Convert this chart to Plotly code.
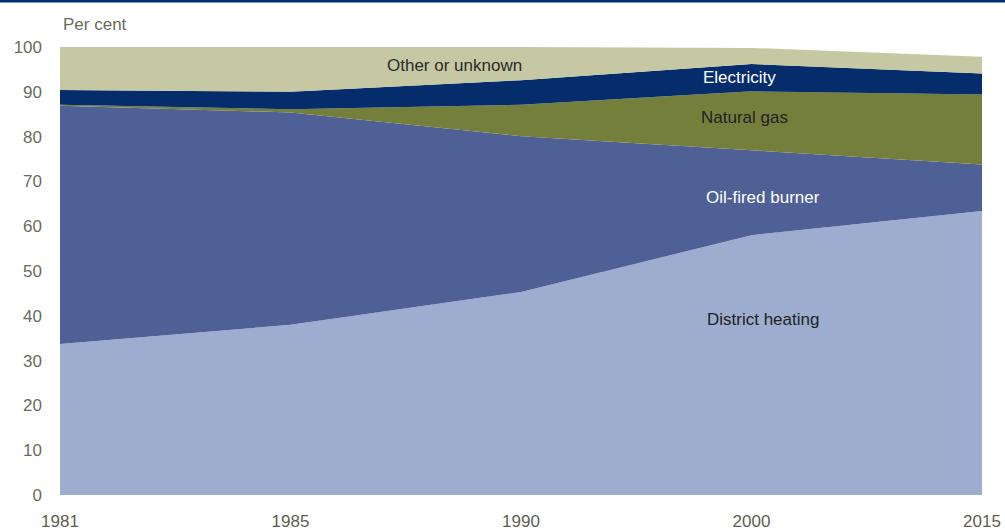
import plotly.graph_objects as go

years = ["1981", "1985", "1990", "2000", "2015"]
district_heating = [33.7, 38.0, 45.3, 58.0, 63.4]
oil_fired = [53.2, 47.4, 34.8, 19.0, 10.4]
natural_gas = [0.2, 0.7, 7.0, 13.1, 15.6]
electricity = [3.3, 3.9, 5.5, 6.1, 4.7]
other = [9.6, 10.0, 7.4, 3.6, 3.7]

series = [
    ("District heating", district_heating, "#9dadcf"),
    ("Oil-fired burner", oil_fired, "#4e6096"),
    ("Natural gas", natural_gas, "#757f3c"),
    ("Electricity", electricity, "#052c6b"),
    ("Other or unknown", other, "#c6c7a3"),
]

fig = go.Figure()
for name, vals, col in series:
    fig.add_trace(go.Scatter(
        x=years, y=vals, name=name, mode="lines", stackgroup="one",
        line=dict(width=0, color=col), fillcolor=col,
        hoverinfo="x+y+name",
    ))

labels = [
    ("Other or unknown", 1.71, 95.8, "#2b2b2b"),
    ("Electricity", 2.95, 93.1, "#ffffff"),
    ("Natural gas", 2.97, 84.2, "#222222"),
    ("Oil-fired burner", 3.05, 66.5, "#ffffff"),
    ("District heating", 3.05, 39.1, "#222222"),
]
for txt, xx, yy, c in labels:
    fig.add_annotation(x=xx, y=yy, xref="x", yref="y", text=txt, showarrow=False,
                       font=dict(family="Liberation Sans, Arial", size=17, color=c))

fig.add_annotation(x=0, y=1.0, xref="paper", yref="paper", yshift=11, xanchor="left",
                   yanchor="bottom", text="Per cent", showarrow=False, xshift=1,
                   font=dict(family="Liberation Sans, Arial", size=17, color="#6b6b5c"))

fig.add_shape(type="line", xref="paper", yref="paper",
              x0=-60 / 922, x1=1 + 23 / 922, y0=1 + 46 / 448, y1=1 + 46 / 448,
              line=dict(color="#052c6b", width=3))

fig.update_layout(
    width=1005, height=531,
    margin=dict(l=60, r=23, t=47, b=36, autoexpand=False),
    paper_bgcolor="white", plot_bgcolor="white",
    showlegend=False,
    xaxis=dict(type="category", range=[0, 4], showgrid=False, zeroline=False,
               showline=False, ticks="", ticklabelstandoff=14, automargin=False,
               tickfont=dict(family="Liberation Sans Narrow, Arial Narrow, Liberation Sans", size=17, color="#5e5e4e")),
    yaxis=dict(range=[0, 100], tickvals=[0, 10, 20, 30, 40, 50, 60, 70, 80, 90, 100],
               showgrid=True, gridcolor="#dcdcdc", gridwidth=2, zeroline=False,
               showline=False, ticks="", ticklabelstandoff=17, automargin=False,
               tickfont=dict(family="Liberation Sans, Arial", size=17, color="#6b6b5c")),
)

fig.write_html("out.html", config={"displayModeBar": False},
               post_script="document.body.style.margin='0';document.body.style.padding='0';")
